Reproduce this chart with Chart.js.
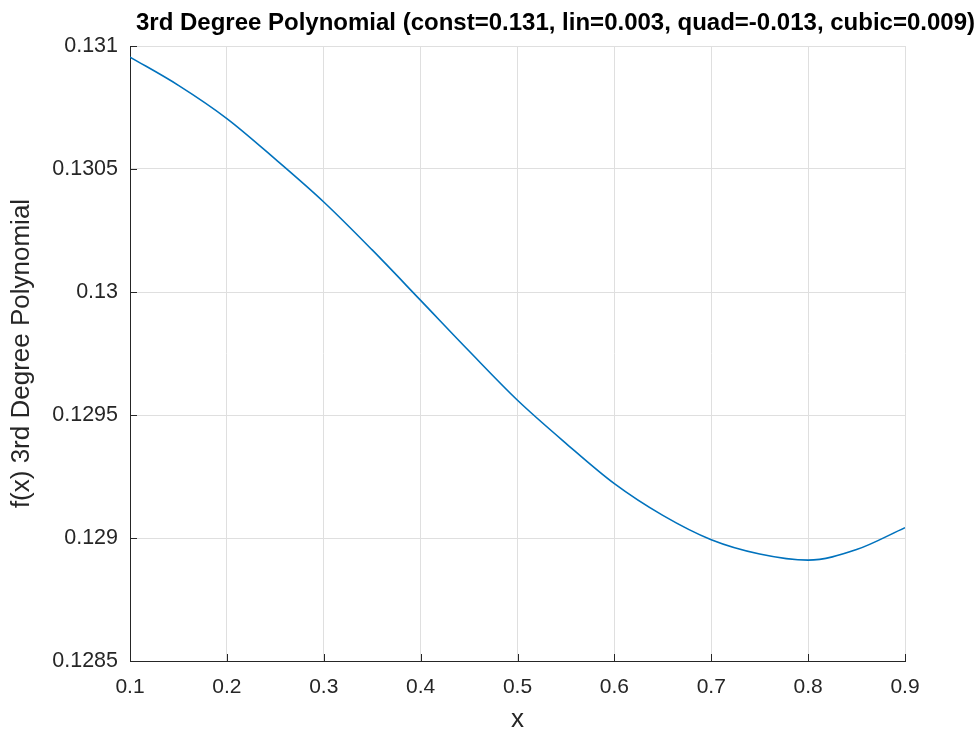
<!DOCTYPE html>
<html>
<head>
<meta charset="utf-8">
<script src="https://cdn.jsdelivr.net/npm/chart.js@4"></script>
<style>
  body { margin: 0; background: #fff; }
  canvas { display: block; }
</style>
</head>
<body>
<canvas id="myChart" width="978" height="731"></canvas>
<script>
// values
var xValues = [0.10, 0.15, 0.20, 0.25, 0.30, 0.35, 0.40, 0.45, 0.50, 0.55, 0.60, 0.65, 0.70, 0.75, 0.80, 0.85, 0.90];
var fValues = [0.130955, 0.130840, 0.130705, 0.130540, 0.130366, 0.130171, 0.129966, 0.129760, 0.129560,
               0.129385, 0.129221, 0.129092, 0.128993, 0.128935, 0.128910, 0.128953, 0.129042];
var xTicks = [0.1, 0.2, 0.3, 0.4, 0.5, 0.6, 0.7, 0.8, 0.9];
var yTicks = [0.1285, 0.129, 0.1295, 0.13, 0.1305, 0.131];
var titleText = '3rd Degree Polynomial (const=0.131, lin=0.003, quad=-0.013, cubic=0.009)';

var axisColor = '#262626';
var gridColor = '#dfdfdf';
var fontFamily = '"Liberation Sans", Arial, sans-serif';

function fmt(v) { return String(parseFloat(v.toFixed(4))); }

// title pushed right against the figure edge like the reference, plus inward tick marks
var matlabBits = {
    id: 'matlabBits',
    afterDraw: function(chart) {
        var ctx = chart.ctx, area = chart.chartArea;
        var xs = chart.scales.x, ys = chart.scales.y;
        ctx.save();
        ctx.strokeStyle = axisColor;
        ctx.lineWidth = 1;
        ctx.beginPath();
        yTicks.forEach(function(v) {
            var py = Math.round(ys.getPixelForValue(v)) + 0.5;
            ctx.moveTo(area.left, py);
            ctx.lineTo(area.left + 7, py);
        });
        xTicks.forEach(function(v) {
            var px = Math.round(xs.getPixelForValue(v)) + 0.5;
            ctx.moveTo(px, area.bottom);
            ctx.lineTo(px, area.bottom - 7);
        });
        ctx.stroke();

        ctx.font = 'bold 24px ' + fontFamily;
        ctx.fillStyle = '#000';
        ctx.textAlign = 'right';
        ctx.textBaseline = 'middle';
        ctx.fillText(titleText, chart.width - 3, 23);
        ctx.restore();
    }
};

var ctx = document.getElementById('myChart').getContext('2d');
var myChart = new Chart(ctx, {
    type: 'line',
    data: {
        datasets: [{
            label: 'f(x)',
            data: xValues.map(function(x, i) { return { x: x, y: fValues[i] }; }),
            borderColor: '#0072BD',
            borderWidth: 1.6,
            pointRadius: 0,
            fill: false,
            cubicInterpolationMode: 'monotone'
        }]
    },
    options: {
        responsive: false,
        animation: false,
        layout: { padding: { top: 46, right: 73, left: 0, bottom: 0 } },
        plugins: {
            legend: { display: false },
            tooltip: { enabled: false }
        },
        scales: {
            x: {
                type: 'linear',
                min: 0.1,
                max: 0.9,
                afterBuildTicks: function(s) { s.ticks = xTicks.map(function(v) { return { value: v }; }); },
                afterFit: function(s) { s.height = 70; },
                ticks: {
                    color: axisColor,
                    font: { family: fontFamily, size: 21 },
                    padding: 14,
                    maxRotation: 0,
                    callback: function(v) { return fmt(v); }
                },
                grid: { color: gridColor, drawTicks: false },
                border: { color: axisColor, width: 1 },
                title: {
                    display: true,
                    text: 'x',
                    color: axisColor,
                    font: { family: fontFamily, size: 26, lineHeight: 0.85 },
                    padding: { top: 0, bottom: 0 }
                }
            },
            y: {
                min: 0.1285,
                max: 0.131,
                afterBuildTicks: function(s) { s.ticks = yTicks.map(function(v) { return { value: v }; }); },
                afterFit: function(s) { s.width = 130; },
                ticks: {
                    color: axisColor,
                    font: { family: fontFamily, size: 21.5 },
                    padding: 12,
                    callback: function(v) { return fmt(v); }
                },
                grid: { color: gridColor, drawTicks: false },
                border: { color: axisColor, width: 1 },
                title: {
                    display: true,
                    text: 'f(x) 3rd Degree Polynomial',
                    color: axisColor,
                    font: { family: fontFamily, size: 26 },
                    padding: { top: 6, bottom: 0 }
                }
            }
        }
    },
    plugins: [matlabBits]
});
</script>
</body>
</html>
